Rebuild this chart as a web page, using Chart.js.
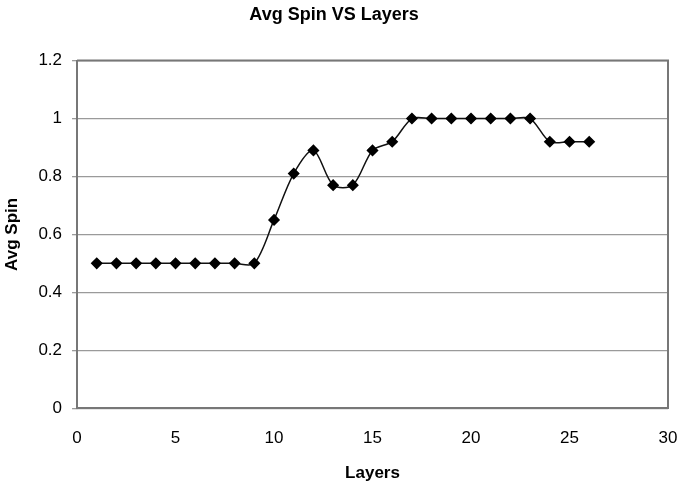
<!DOCTYPE html>
<html>
<head>
<meta charset="utf-8">
<script src="https://cdn.jsdelivr.net/npm/chart.js@4"></script>
<style>
  html, body { margin: 0; padding: 0; background: #fff; }
  #wrap { width: 682px; height: 487px; }
</style>
</head>
<body>
<div id="wrap"><canvas id="grafico"></canvas></div>
<script>
const layers = [1,2,3,4,5,6,7,8,9,10,11,12,13,14,15,16,17,18,19,20,21,22,23,24,25,26];
const avgSpin = [0.5,0.5,0.5,0.5,0.5,0.5,0.5,0.5,0.5,0.65,0.81,0.89,0.77,0.77,0.89,0.92,1,1,1,1,1,1,1,0.92,0.92,0.92];
const xTicks = [0,5,10,15,20,25,30];
const yTicks = [0,0.2,0.4,0.6,0.8,1,1.2];

const ctx = document.getElementById("grafico");
const fonte = "Arial, 'Liberation Sans', sans-serif";

new Chart(ctx, {
  type: "scatter",
  data: {
    datasets: [{
      label: "Avg Spin",
      data: layers.map((x, i) => ({ x: x, y: avgSpin[i] })),
      showLine: true,
      borderColor: "#111",
      borderWidth: 1.5,
      tension: 0.3,
      pointStyle: "rectRot",
      pointRadius: 5,
      pointBackgroundColor: "#000",
      pointBorderColor: "#000"
    }]
  },
  options: {
    responsive: true,
    maintainAspectRatio: false,
    animation: false,
    layout: { padding: { left: 0, right: 14, top: 0, bottom: 3 } },
    plugins: {
      legend: { display: false },
      tooltip: { enabled: false },
      title: {
        display: true,
        text: "Avg Spin VS Layers",
        color: "#000",
        font: { family: fonte, size: 18, weight: "bold" },
        padding: { top: 4, bottom: 35 }
      }
    },
    scales: {
      x: {
        type: "linear",
        min: 0,
        max: 30,
        afterBuildTicks: (axis) => { axis.ticks = xTicks.map(v => ({ value: v })); },
        // the "30" label may hang past the plot, as in the original
        afterFit: (axis) => { axis.paddingRight = 0; axis.paddingLeft = 0; },
        grid: { display: false, drawTicks: true, tickLength: 5, color: "#777" },
        border: { display: true, color: "#777", width: 2 },
        ticks: { color: "#000", font: { family: fonte, size: 17 }, padding: 15 },
        title: {
          display: true,
          text: "Layers",
          color: "#000",
          font: { family: fonte, size: 17, weight: "bold" },
          padding: { top: 0, bottom: 0 }
        }
      },
      y: {
        min: 0,
        max: 1.2,
        afterBuildTicks: (axis) => { axis.ticks = yTicks.map(v => ({ value: v })); },
        grid: { color: "#9a9a9a", lineWidth: 1.3, tickLength: 5 },
        border: { display: true, color: "#777", width: 2 },
        ticks: {
          color: "#000",
          font: { family: fonte, size: 17 },
          padding: 10,
          callback: (v) => String(+v.toFixed(1))
        },
        title: {
          display: true,
          text: "Avg Spin",
          color: "#000",
          font: { family: fonte, size: 17, weight: "bold" },
          padding: { top: 2, bottom: 6 }
        }
      }
    }
  },
  plugins: [{
    id: "moldura",
    afterDraw(chart) {
      const a = chart.chartArea;
      const c = chart.ctx;
      c.save();
      c.strokeStyle = "#777";
      c.lineWidth = 2;
      c.beginPath();
      c.moveTo(a.left, a.top);
      c.lineTo(a.right, a.top);
      c.lineTo(a.right, a.bottom);
      c.stroke();
      c.restore();
    }
  }]
});
</script>
</body>
</html>
